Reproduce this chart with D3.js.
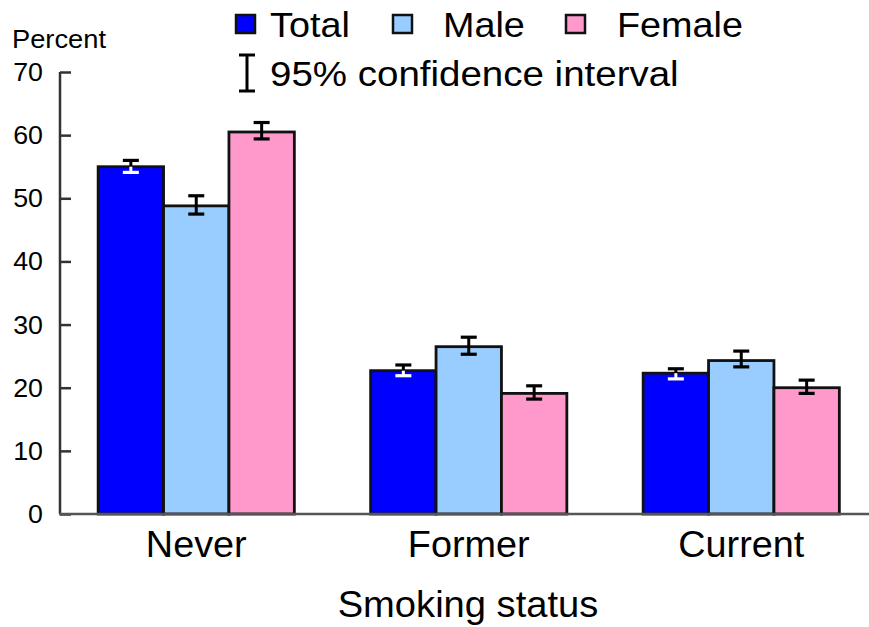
<!DOCTYPE html>
<html>
<head>
<meta charset="utf-8">
<script src="https://cdn.jsdelivr.net/npm/d3@7"></script>
<style>
  html, body { margin: 0; padding: 0; background: #fff; }
  text { font-family: "Liberation Sans", Arial, sans-serif; fill: #000; }
</style>
</head>
<body>
<svg id="chart" width="869" height="627"></svg>
<script>
// ---- data ----
const categories = ["Never", "Former", "Current"];
const seriesNames = ["Total", "Male", "Female"];
const totalValues = [55.0, 22.7, 22.3];
const maleValues = [48.8, 26.5, 24.3];
const femaleValues = [60.5, 19.1, 20.0];
const totalCILow = [54.1, 21.9, 21.4];
const totalCIHigh = [56.0, 23.6, 23.0];
const maleCILow = [47.5, 25.3, 23.3];
const maleCIHigh = [50.4, 28.0, 25.8];
const femaleCILow = [59.4, 18.2, 19.1];
const femaleCIHigh = [62.0, 20.3, 21.2];
const yTicks = [0, 10, 20, 30, 40, 50, 60, 70];

const colors = { Total: "#0000FF", Male: "#99CCFF", Female: "#FF99CC" };
const innerErrColor = { Total: "#FFFFFF", Male: "#000000", Female: "#000000" };

const seriesData = {
  Total: { v: totalValues, lo: totalCILow, hi: totalCIHigh },
  Male: { v: maleValues, lo: maleCILow, hi: maleCIHigh },
  Female: { v: femaleValues, lo: femaleCILow, hi: femaleCIHigh }
};

const rows = [];
categories.forEach((c, i) => {
  seriesNames.forEach(s => {
    rows.push({ cat: c, series: s, value: seriesData[s].v[i], lo: seriesData[s].lo[i], hi: seriesData[s].hi[i] });
  });
});

const svg = d3.select("#chart");
const x0 = d3.scaleBand().domain(categories).range([60, 877.5]).paddingInner(0.28).paddingOuter(0.14);
const x1 = d3.scaleBand().domain(seriesNames).range([0, x0.bandwidth()]).padding(0);
const y = d3.scaleLinear().domain([0, 70]).range([514, 72]);

// helper: horizontally stretched text (reference glyphs are slightly wide)
function stretchText(sel, x, yPos, sx) {
  return sel.attr("x", 0).attr("y", 0)
    .attr("transform", typeof x === "function"
      ? (d, i) => `translate(${x(d, i)},${typeof yPos === "function" ? yPos(d, i) : yPos}) scale(${sx},1)`
      : (d, i) => `translate(${x},${typeof yPos === "function" ? yPos(d, i) : yPos}) scale(${sx},1)`);
}

// bars
const g = svg.append("g");
g.selectAll("rect.bar").data(rows).join("rect")
  .attr("class", "bar")
  .attr("x", d => x0(d.cat) + x1(d.series))
  .attr("y", d => y(d.value))
  .attr("width", x1.bandwidth())
  .attr("height", d => y(0) - y(d.value))
  .attr("fill", d => colors[d.series])
  .attr("stroke", "#111")
  .attr("stroke-width", 2.8);

// error bars
const capW = 16;
const eb = g.selectAll("g.eb").data(rows).join("g").attr("class", "eb")
  .attr("transform", d => `translate(${x0(d.cat) + x1(d.series) + x1.bandwidth() / 2},0)`);
eb.append("line").attr("x1", 0).attr("x2", 0)
  .attr("y1", d => y(d.hi)).attr("y2", d => y(d.value))
  .attr("stroke", "#000").attr("stroke-width", 3);
eb.append("line").attr("x1", 0).attr("x2", 0)
  .attr("y1", d => y(d.value)).attr("y2", d => y(d.lo))
  .attr("stroke", d => innerErrColor[d.series]).attr("stroke-width", 3);
eb.append("line").attr("x1", -capW / 2).attr("x2", capW / 2)
  .attr("y1", d => y(d.hi)).attr("y2", d => y(d.hi))
  .attr("stroke", "#000").attr("stroke-width", 3.2);
eb.append("line").attr("x1", -capW / 2).attr("x2", capW / 2)
  .attr("y1", d => y(d.lo)).attr("y2", d => y(d.lo))
  .attr("stroke", d => innerErrColor[d.series]).attr("stroke-width", 3.2);

// y axis
const yAxis = d3.axisRight(y).tickValues(yTicks).tickSize(11).tickFormat("");
const yg = svg.append("g").attr("transform", "translate(60,0)").call(yAxis);
yg.select(".domain").attr("d", `M0,${y(70)}V${y(0)}`).attr("stroke", "#333").attr("stroke-width", 2.5);
yg.selectAll(".tick line").attr("stroke", "#333").attr("stroke-width", 2.5);
stretchText(
  svg.append("g").selectAll("text").data(yTicks).join("text")
    .attr("text-anchor", "end").attr("font-size", 26).text(d => d),
  43, d => y(d) + 9, 1.03);

// x axis line
svg.append("line").attr("x1", 59).attr("x2", 869).attr("y1", y(0)).attr("y2", y(0))
  .attr("stroke", "#555").attr("stroke-width", 2.5);

// category labels
stretchText(
  svg.append("g").selectAll("text").data(categories).join("text")
    .attr("text-anchor", "middle").attr("font-size", 36).text(d => d),
  d => x0(d) + x0.bandwidth() / 2, 557, 1.05);

// axis titles
stretchText(svg.append("text").attr("text-anchor", "middle").attr("font-size", 36).text("Smoking status"), 468, 617, 1.06);
stretchText(svg.append("text").attr("font-size", 26).text("Percent"), 12, 48, 1.05);

// legend
const legendItems = [
  { name: "Total", box: 236, tx: 270 },
  { name: "Male", box: 393, tx: 443 },
  { name: "Female", box: 566, tx: 617 }
];
const lg = svg.append("g");
lg.selectAll("rect").data(legendItems).join("rect")
  .attr("x", d => d.box).attr("y", 15).attr("width", 19).attr("height", 18)
  .attr("fill", d => colors[d.name]).attr("stroke", "#111").attr("stroke-width", 2.5);
stretchText(
  lg.selectAll("text").data(legendItems).join("text").attr("font-size", 35).text(d => d.name),
  d => d.tx, 37, 1.08);
// CI legend icon
const ic = lg.append("g").attr("transform", "translate(247,0)");
ic.append("line").attr("x1", 0).attr("x2", 0).attr("y1", 55).attr("y2", 91).attr("stroke", "#000").attr("stroke-width", 3);
ic.append("line").attr("x1", -8).attr("x2", 8).attr("y1", 55).attr("y2", 55).attr("stroke", "#000").attr("stroke-width", 3);
ic.append("line").attr("x1", -8).attr("x2", 8).attr("y1", 91).attr("y2", 91).attr("stroke", "#000").attr("stroke-width", 3);
stretchText(lg.append("text").attr("font-size", 35).text("95% confidence interval"), 270, 86, 1.1);
</script>
</body>
</html>
